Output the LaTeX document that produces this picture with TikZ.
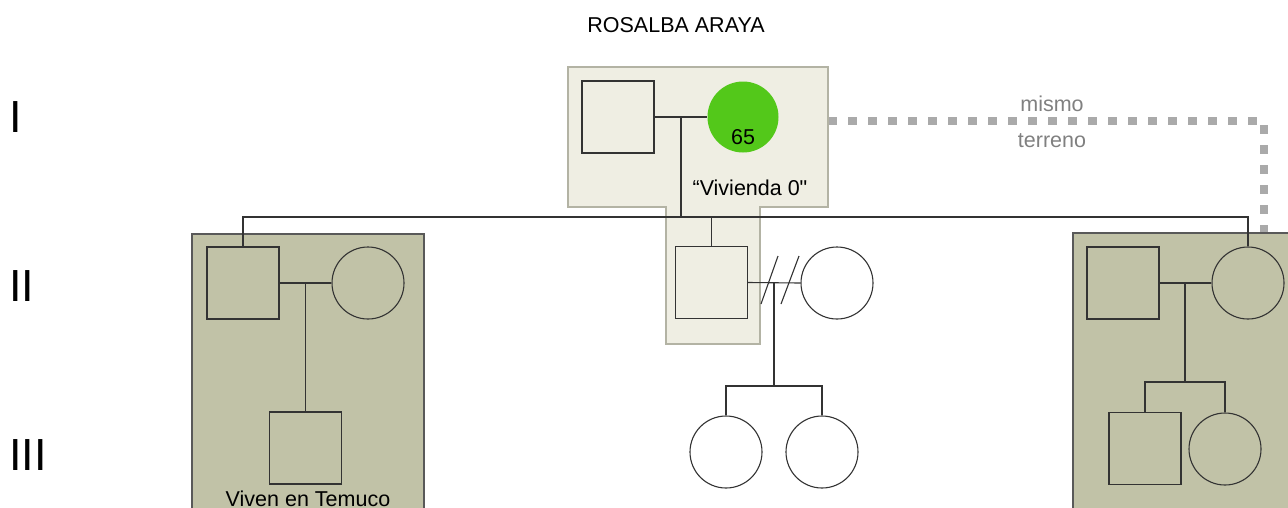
\documentclass[tikz,border=0pt]{standalone}
\usepackage{fontspec}
\setmainfont{Liberation Sans}
\newfontfamily\plainqfont{Liberation Sans}
\begin{document}
\begin{tikzpicture}[x=1pt,y=-1pt,
  ln/.style={draw=black!80,line width=1.1pt},
  male/.style={ln,rectangle,minimum size=72pt,inner sep=0pt},
  female/.style={ln,circle,minimum size=72pt,inner sep=0pt},
  lbl/.style={font=\fontsize{21.5}{21.5}\selectfont,inner sep=0pt,anchor=base},
  gen/.style={font=\fontsize{45}{45}\selectfont,inner sep=0pt,anchor=base west},
  graylbl/.style={lbl,text=black!50},
  sidebox/.style={fill=boxgreen,draw=black!65,line width=1.2pt},
  house/.style={fill=housebeige,draw=houseborder,line width=1.2pt}]
\definecolor{boxgreen}{HTML}{C1C2A7}
\definecolor{housebeige}{HTML}{EFEEE3}
\definecolor{houseborder}{HTML}{B3B3A4}
\definecolor{gfill}{HTML}{53C81A}
\definecolor{dotgray}{HTML}{AAAAAA}
\useasboundingbox (0,0) rectangle (1288,507);
\begin{scope}
\clip (0,0) rectangle (1288,507);
% coordinates for the dotted "mismo terreno" link
\coordinate (hE) at (828,121);
\coordinate (rbT) at (1264,240);
\draw[dotgray,line width=8pt,dash pattern=on 9pt off 11pt] (hE) -| (rbT);
% boxes
\draw[sidebox] (192,234) rectangle (424,520);
\draw[sidebox] (1073,233) rectangle (1300,520);
\draw[house] (568,67) -- (828,67) -- (828,207) -- (760,207) -- (760,344) -- (666,344) -- (666,207) -- (568,207) -- cycle;
% texts
\node[lbl] (title) at (676,32) {ROSALBA ARAYA};
\node[gen] (g1) at (9,132) {I};
\node[gen] (g2) at (9,301) {II};
\node[gen] (g3) at (9,470) {III};
\node[graylbl] (mismo) at (1052,111) {mismo};
\node[graylbl] (terreno) at (1052,147) {terreno};
\node[lbl] (viv) at (750,195) {\plainqfont “Vivienda 0"};
\node[lbl] (tem) at (308,506) {Viven en Temuco};
% generation I
\node[male] (gf) at (618,117) {};
\node[circle,fill=gfill,minimum size=71pt,inner sep=0pt] (gm) at (743,117) {};
\node[lbl] (age) at (743,144) {65};
\coordinate (m1) at (681,117);
\coordinate (s1) at (681,217);
\draw[ln] (gf.east) -- (gm.west);
\draw[ln] (m1) -- (s1);
% generation II
\node[male] (lm) at (243,283) {};
\node[female] (lw) at (368,283) {};
\node[male] (cm) at (711.5,282.5) {};
\node[female] (cw) at (837,283) {};
\node[male] (rm) at (1123,283) {};
\node[female] (rw) at (1248,283) {};
\coordinate (sL) at (243,217);
\coordinate (sR) at (1248,217);
\coordinate (sC) at (711.5,217);
\draw[ln] (lm.north) -- (sL) -- (sR) -- (rw.north);
\draw[ln] (sC) -- (cm.north);
% left family
\node[male] (lc) at (305.5,448) {};
\coordinate (lmid) at (305.5,283);
\draw[ln] (lm.east) -- (lw.west);
\draw[ln] (lmid) -- (lc.north);
% center family (divorced)
\draw[ln] (cm.east) -- (cw.west);
\coordinate (d1a) at (761,304); \coordinate (d1b) at (778,256);
\coordinate (d2a) at (781,304); \coordinate (d2b) at (799,256);
\draw[ln] (d1a) -- (d1b);
\draw[ln] (d2a) -- (d2b);
\node[female] (cc1) at (726,452) {};
\node[female] (cc2) at (822,452) {};
\coordinate (cmid) at (774,283);
\coordinate (csib) at (774,386);
\draw[ln] (cmid) -- (csib);
\draw[ln] (cc1.north) |- (csib) -| (cc2.north);
% right family
\node[male] (rc1) at (1145,448.5) {};
\node[female] (rc2) at (1225,449) {};
\coordinate (rmid) at (1185,283);
\coordinate (rsib) at (1185,382);
\draw[ln] (rm.east) -- (rw.west);
\draw[ln] (rmid) -- (rsib);
\draw[ln] (rc1.north) |- (rsib) -| (rc2.north);
\end{scope}
\end{tikzpicture}
\end{document}
